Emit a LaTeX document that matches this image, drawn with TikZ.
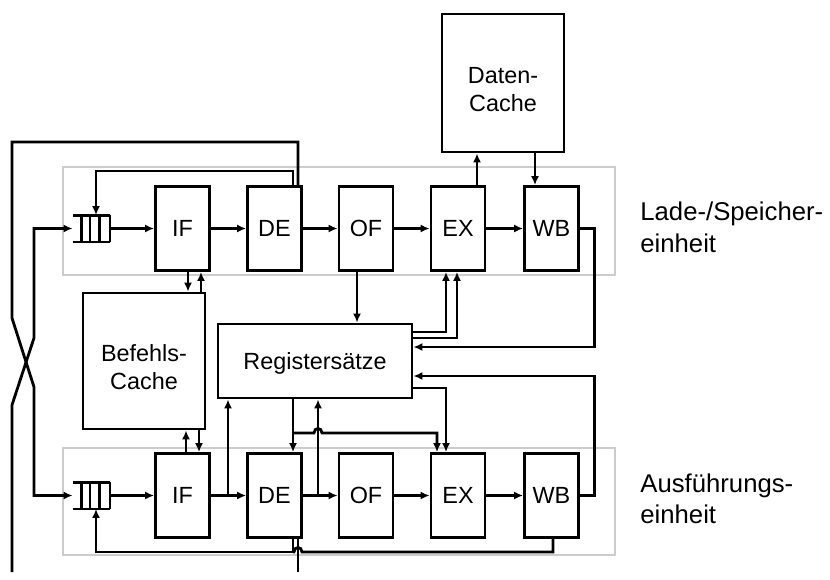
\documentclass[tikz,border=0pt]{standalone}
\usepackage{fontspec}
\setmainfont{Liberation Sans}
\usetikzlibrary{arrows.meta,calc}
\begin{document}
\begin{tikzpicture}[x=1pt,y=-1pt,
  line width=2.8pt,
  every node/.style={font=\fontsize{23.4}{28}\selectfont},
  stage/.style={draw, rectangle, minimum width=54pt, minimum height=84pt, inner sep=0pt},
  bigbox/.style={draw, rectangle, inner sep=0pt, align=center},
  frame/.style={draw=black!20, line width=2.2pt},
  arr/.style={-{Latex[length=9pt,width=8pt]}},
  qbox/.style={minimum width=35pt, minimum height=24pt, inner sep=0pt},
  lbl/.style={align=left, anchor=north west, inner sep=0pt, font=\fontsize{25.7}{31.5}\selectfont},
]
\useasboundingbox (0,0) rectangle (830,579);
% frames
\draw[frame] (63,167) rectangle (615,275);
\draw[frame] (63,448) rectangle (615,555);
% upper stages
\node[stage] (ifU) at (182.5,228.5) {IF};
\node[stage] (deU) at (274.5,228.5) {DE};
\node[stage] (ofU) at (366,228.5) {OF};
\node[stage] (exU) at (458,228.5) {EX};
\node[stage] (wbU) at (551.5,228.5) {WB};
% lower stages
\node[stage] (ifL) at (182.5,495.5) {IF};
\node[stage] (deL) at (274.5,495.5) {DE};
\node[stage] (ofL) at (366,495.5) {OF};
\node[stage] (exL) at (458,495.5) {EX};
\node[stage] (wbL) at (551.5,495.5) {WB};
% queues
\node[qbox] (quU) at (91.5,228.5) {};
\node[qbox] (quL) at (91.5,495.5) {};
\foreach \q in {quU,quL}{
  \draw (\q.north west) -- (\q.north east);
  \draw (\q.south west) -- (\q.south east);
  \foreach \f in {0.23,0.46,0.71,0.99}
    \draw ($(\q.north west)!\f!(\q.north east)$) -- ($(\q.south west)!\f!(\q.south east)$);
}
% caches and registers
\node[bigbox, minimum width=122pt, minimum height=138pt] (dc) at (503,83) {};
\node[align=center, inner sep=0pt] (dct) at (503,90) {Daten-\\Cache};
\node[bigbox, minimum width=122pt, minimum height=136pt] (bc) at (144,361) {};
\node[align=center, inner sep=0pt] (bct) at (144,367) {Befehls-\\Cache};
\node[bigbox, minimum width=194pt, minimum height=74pt, text depth=0pt] (rg) at (315,361) {Registersätze};
% labels
\node[lbl] (l1) at (639,200.5) {Lade-/Speicher-\\einheit};
\node[lbl] (l2) at (639,472) {Ausführungs-\\einheit};
% pipeline arrows
\draw[arr] (quU) -- (ifU);
\draw[arr] (ifU) -- (deU);
\draw[arr] (deU) -- (ofU);
\draw[arr] (ofU) -- (exU);
\draw[arr] (exU) -- (wbU);
\draw[arr] (quL) -- (ifL);
\draw[arr] (ifL) -- (deL);
\draw[arr] (deL) -- (ofL);
\draw[arr] (ofL) -- (exL);
\draw[arr] (exL) -- (wbL);
% upper DE loops
\draw[arr] (deU.north -| 293,0) |- (96,171) -- (quU.north -| 96,0);
\draw[arr] (deU.north -| 298,0) |- (12,142) -- (12,318) -- (34,387) |- (quL.west);
\draw[arr] (12,572) -- (12,405) -- (34,338) |- (quU.west);
% instruction cache
\draw[arr] (ifU.south -| 188,0) -- (bc.north -| 188,0);
\draw[arr] (bc.north -| 201,0) -- (ifU.south -| 201,0);
\draw[arr] (ifL.north -| 186,0) -- (bc.south -| 186,0);
\draw[arr] (bc.south -| 199,0) -- (ifL.north -| 199,0);
% data cache
\draw[arr] (exU.north -| 477,0) -- (dc.south -| 477,0);
\draw[arr] (dc.south -| 535,0) -- (wbU.north -| 535,0);
% register connections upper
\draw[arr] (ofU.south -| 357,0) -- (rg.north -| 357,0);
\draw[arr] (rg.east |- 0,332) -| (exU.south -| 446,0);
\draw[arr] (rg.east |- 0,338) -| (exU.south -| 457,0);
\draw[arr] (wbU.east) -- ++(14.5,0) |- (rg.east |- 0,347);
\draw[arr] (wbL.east) -- ++(14.5,0) |- (rg.east |- 0,376);
% register connections lower
\draw[arr] (ifL.east -| 228,0) -- (rg.south -| 228,0);
\draw[arr] (deL.east -| 318,0) -- (rg.south -| 318,0);
\draw[arr] (rg.south -| 293,0) -- (deL.north -| 293,0);
\coordinate (j1) at (293,433);
\draw[arr] (j1) -- (314,433) .. controls (314,427) and (322,427) .. (322,433) -- (437,433) -- (exL.north -| 437,0);
\draw[arr] (rg.east |- 0,388) -| (exL.north -| 446,0);
% lower DE / WB loops
\draw[arr] (deL.south -| 293,0) |- (96,552) -- (quL.south -| 96,0);
\draw (wbL.south -| 553,0) |- (302,552) .. controls (302,546) and (294,546) .. (294,552) -- (293,552);
\draw (deL.south -| 298,0) -- (298,572);
\end{tikzpicture}
\end{document}
